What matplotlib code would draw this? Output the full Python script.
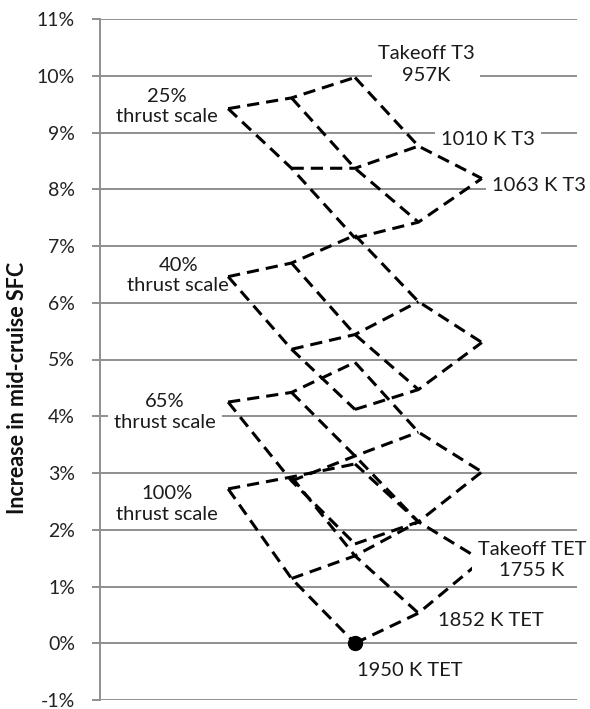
import matplotlib
matplotlib.use("Agg")
import matplotlib.pyplot as plt
from matplotlib.ticker import PercentFormatter, MultipleLocator

plt.rcParams['font.family'] = ['Lato', 'DejaVu Sans']
plt.rcParams['axes.unicode_minus'] = False

# ---- data (increase in mid-cruise SFC, %) ----
# rows: T3 level (957K, 1010K, 1063K); columns: TET level (1950K, 1852K, 1755K)
thrust_labels = ["25%\nthrust scale", "40%\nthrust scale", "65%\nthrust scale", "100%\nthrust scale"]
t3_labels = ["Takeoff T3\n957K", "1010 K T3", "1063 K T3"]
tet_labels = ["1950 K TET", "1852 K TET", "Takeoff TET\n1755 K"]

sfc_25 = [[9.42, 9.61, 9.97],
          [8.37, 8.37, 8.76],
          [7.14, 7.42, 8.19]]
sfc_40 = [[6.46, 6.70, 7.19],
          [5.18, 5.44, 6.02],
          [4.12, 4.47, 5.30]]
sfc_65 = [[4.25, 4.42, 4.95],
          [2.86, 3.30, 3.72],
          [1.75, 2.14, 3.02]]
sfc_100 = [[2.72, 2.93, 3.16],
           [1.14, 1.54, 2.14],
           [0.00, 0.53, 1.46]]
grids = [sfc_25, sfc_40, sfc_65, sfc_100]

yticks = list(range(-1, 12))

# ---- figure ----
W, H, DPI = 590, 709, 100
fig = plt.figure(figsize=(W / DPI, H / DPI), dpi=DPI)
ax = fig.add_axes([100 / W, 9 / H, 477 / W, 681 / H])

grid_col = '#8f8f8f'
for yv in yticks:
    ax.axhline(yv, color=grid_col, lw=1.4, zorder=0.5)

dash = (0, (4.0, 2.3))
lw = 2.2
for g in grids:
    n = len(g)
    # constant-T3 lines (rows)
    for i in range(n):
        xs = [i + j for j in range(n)]
        ax.plot(xs, g[i], color='black', lw=lw, linestyle=dash, zorder=2,
                dash_capstyle='butt')
    # constant-TET lines (columns)
    for j in range(n):
        xs = [i + j for i in range(n)]
        ax.plot(xs, [g[i][j] for i in range(n)], color='black', lw=lw,
                linestyle=dash, zorder=2, dash_capstyle='butt')

# baseline design point
ax.plot([2], [sfc_100[2][0]], 'o', color='black', ms=10, zorder=4)

fs = 14.5
box = dict(boxstyle='square,pad=0.3', fc='white', ec='none')

# thrust scale labels, left of each grid corner
thrust_off = [(-61, 2), (-50, 1), (-63, -10), (-61, -15)]
for g, lab, off in zip(grids, thrust_labels, thrust_off):
    ax.annotate(lab, (0, g[0][0]), xytext=off, textcoords='offset pixels',
                ha='center', va='center', fontsize=fs, linespacing=1.25,
                bbox=box if lab.startswith('65') else None, zorder=5,
                color='#1a1a1a')

# T3 labels at the right end of the 25% grid
t3_off = [(71, 13), (70, 7), (57, -7)]
for i, (lab, off) in enumerate(zip(t3_labels, t3_off)):
    ax.annotate(lab, (i + 2, sfc_25[i][2]), xytext=off, textcoords='offset pixels',
                ha='center', va='center', fontsize=fs, linespacing=1.3,
                bbox=box, zorder=5, color='#1a1a1a')

# TET labels along the bottom edge of the 100% grid
tet_off = [(55, -27), (72, -7), (50, 0)]
for j, (lab, off) in enumerate(zip(tet_labels, tet_off)):
    ax.annotate(lab, (2 + j, sfc_100[2][j]), xytext=off, textcoords='offset pixels',
                ha='center', va='center', fontsize=fs, linespacing=1.3,
                bbox=box if j == 2 else None, zorder=5, color='#1a1a1a')

ax.set_xlim(-2.02, 5.5)
ax.set_ylim(-1, 11)
ax.yaxis.set_major_locator(MultipleLocator(1))
ax.yaxis.set_major_formatter(PercentFormatter(decimals=0))
ax.set_xticks([])
for s in ['top', 'right', 'bottom']:
    ax.spines[s].set_visible(False)
ax.spines['left'].set_color(grid_col)
ax.spines['left'].set_linewidth(1.4)
ax.tick_params(axis='y', length=6, width=1.4, color=grid_col, labelsize=14,
               pad=12, labelcolor='#222222')
ax.set_facecolor('white')

fig.text(18 / W, 1 - 388 / H, "Increase in mid-cruise SFC", rotation=90,
         ha='center', va='center', fontsize=15.5, fontweight='bold', color='#111111')

fig.savefig('out.png', dpi=DPI)
